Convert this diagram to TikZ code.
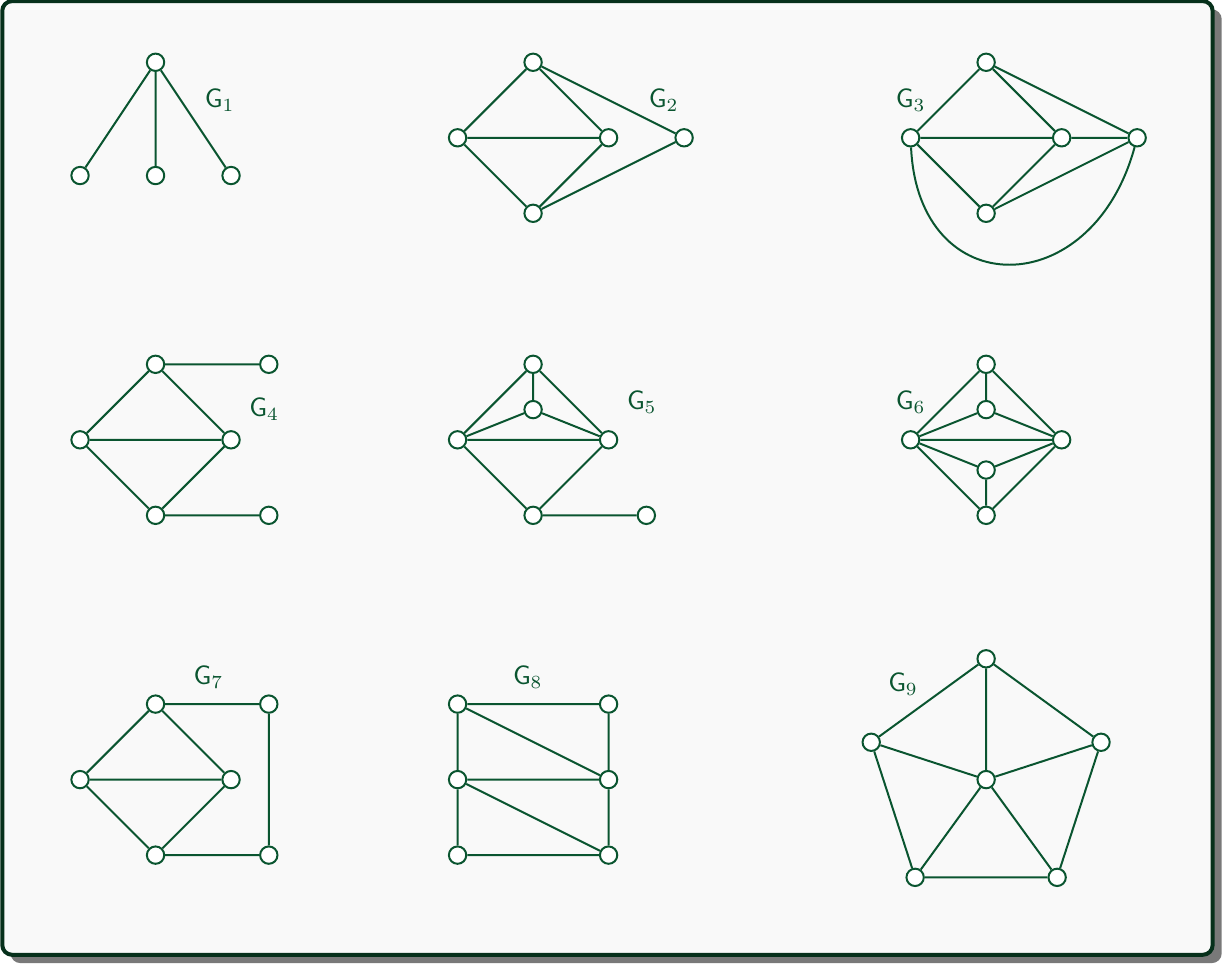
\documentclass[tikz,border=0pt]{standalone}
\usepackage{amsmath, amssymb}
\usepackage{tikz}
\usetikzlibrary{calc}

\definecolor{edgegreen}{HTML}{0A5530}
\definecolor{framegreen}{HTML}{06301B}
\definecolor{paper}{HTML}{F9F9F9}

\begin{document}
\begin{tikzpicture}[
    vtx/.style={circle, draw=edgegreen, fill=white, line width=0.75pt, inner sep=0pt, minimum size=0.23cm},
    lbl/.style={text=edgegreen},
    link/.style={draw=edgegreen, line width=0.75pt}]
    \useasboundingbox (-1.06,-1.483) rectangle (15.19,11.325);
    % frame and shadow
    \fill[gray!95!black, rounded corners=0.13cm] (-0.92,-1.43) rectangle (15.12,11.2);
    \draw[framegreen, fill=paper, line width=1.5pt, rounded corners=0.13cm] (-1.03,-1.32) rectangle (15.0,11.31);

    % G1
    \node[vtx] (a1) at (1,10.5) {};
    \node[vtx] (a2) at (0,9) {};
    \node[vtx] (a3) at (1,9) {};
    \node[vtx] (a4) at (2,9) {};
    \draw[link] (a1) -- (a2) (a1) -- (a3) (a1) -- (a4);
    \node[lbl] at (1.85,10) {$\mathsf{G}_1$};

    % G2
    \node[vtx] (b1) at (6,10.5) {};
    \node[vtx] (b2) at (5,9.5) {};
    \node[vtx] (b3) at (7,9.5) {};
    \node[vtx] (b4) at (6,8.5) {};
    \node[vtx] (b5) at (8,9.5) {};
    \draw[link] (b1) -- (b2) (b1) -- (b3) (b2) -- (b3) (b2) -- (b4) (b3) -- (b4)
          (b1) -- (b5) (b4) -- (b5);
    \node[lbl] at (7.73,10) {$\mathsf{G}_2$};

    % G3
    \node[vtx] (c1) at (12,10.5) {};
    \node[vtx] (c2) at (11,9.5) {};
    \node[vtx] (c3) at (13,9.5) {};
    \node[vtx] (c4) at (12,8.5) {};
    \node[vtx] (c5) at (14,9.5) {};
    \draw[link] (c1) -- (c2) (c1) -- (c3) (c1) -- (c5) (c2) -- (c3) (c3) -- (c5)
          (c2) -- (c4) (c3) -- (c4) (c4) -- (c5);
    \draw[link] (c2) .. controls (11.1,7.3) and (13.4,7.3) .. (c5);
    \node[lbl] at (11,10) {$\mathsf{G}_3$};

    % G4
    \node[vtx] (d1) at (1,6.5) {};
    \node[vtx] (d2) at (0,5.5) {};
    \node[vtx] (d3) at (2,5.5) {};
    \node[vtx] (d4) at (1,4.5) {};
    \node[vtx] (d5) at (2.5,6.5) {};
    \node[vtx] (d6) at (2.5,4.5) {};
    \draw[link] (d1) -- (d2) (d1) -- (d3) (d2) -- (d3) (d2) -- (d4) (d3) -- (d4)
          (d1) -- (d5) (d4) -- (d6);
    \node[lbl] at (2.44,5.9) {$\mathsf{G}_4$};

    % G5
    \node[vtx] (e1) at (6,6.5) {};
    \node[vtx] (e2) at (6,5.9) {};
    \node[vtx] (e3) at (5,5.5) {};
    \node[vtx] (e4) at (7,5.5) {};
    \node[vtx] (e5) at (6,4.5) {};
    \node[vtx] (e6) at (7.5,4.5) {};
    \draw[link] (e1) -- (e2) (e1) -- (e3) (e1) -- (e4) (e2) -- (e3) (e2) -- (e4)
          (e3) -- (e4) (e3) -- (e5) (e4) -- (e5) (e5) -- (e6);
    \node[lbl] at (7.44,6) {$\mathsf{G}_5$};

    % G6
    \node[vtx] (f1) at (12,6.5) {};
    \node[vtx] (f2) at (12,5.9) {};
    \node[vtx] (f3) at (11,5.5) {};
    \node[vtx] (f4) at (13,5.5) {};
    \node[vtx] (f5) at (12,5.1) {};
    \node[vtx] (f6) at (12,4.5) {};
    \draw[link] (f1) -- (f2) (f1) -- (f3) (f1) -- (f4) (f2) -- (f3) (f2) -- (f4)
          (f3) -- (f4) (f3) -- (f5) (f4) -- (f5) (f5) -- (f6)
          (f3) -- (f6) (f4) -- (f6);
    \node[lbl] at (11,6) {$\mathsf{G}_6$};

    % G7
    \node[vtx] (g1) at (1,2) {};
    \node[vtx] (g2) at (0,1) {};
    \node[vtx] (g3) at (2,1) {};
    \node[vtx] (g4) at (1,0) {};
    \node[vtx] (g5) at (2.5,2) {};
    \node[vtx] (g6) at (2.5,0) {};
    \draw[link] (g1) -- (g2) (g1) -- (g3) (g2) -- (g3) (g2) -- (g4) (g3) -- (g4)
          (g1) -- (g5) (g5) -- (g6) (g4) -- (g6);
    \node[lbl] at (1.7,2.35) {$\mathsf{G}_7$};

    % G8
    \node[vtx] (h1) at (5,2) {};
    \node[vtx] (h2) at (7,2) {};
    \node[vtx] (h3) at (5,1) {};
    \node[vtx] (h4) at (7,1) {};
    \node[vtx] (h5) at (5,0) {};
    \node[vtx] (h6) at (7,0) {};
    \draw[link] (h1) -- (h2) (h1) -- (h3) (h1) -- (h4) (h2) -- (h4) (h3) -- (h4)
          (h3) -- (h5) (h3) -- (h6) (h4) -- (h6) (h5) -- (h6);
    \node[lbl] at (5.93,2.35) {$\mathsf{G}_8$};

    % G9
    \node[vtx] (k0) at (12,1) {};
    \node[vtx] (k1) at ($(12,1)+(90:1.6)$) {};
    \node[vtx] (k2) at ($(12,1)+(162:1.6)$) {};
    \node[vtx] (k3) at ($(12,1)+(234:1.6)$) {};
    \node[vtx] (k4) at ($(12,1)+(306:1.6)$) {};
    \node[vtx] (k5) at ($(12,1)+(18:1.6)$) {};
    \draw[link] (k1) -- (k2) (k2) -- (k3) (k3) -- (k4) (k4) -- (k5) (k5) -- (k1)
          (k0) -- (k1) (k0) -- (k2) (k0) -- (k3) (k0) -- (k4) (k0) -- (k5);
    \node[lbl] at (10.9,2.26) {$\mathsf{G}_9$};
\end{tikzpicture}
\end{document}
